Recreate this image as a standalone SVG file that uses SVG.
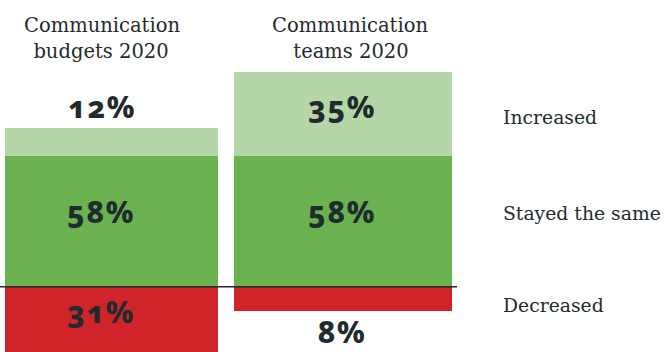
<svg xmlns="http://www.w3.org/2000/svg" width="665" height="352" viewBox="0 0 665 352">
<style>
.t{font-family:"DejaVu Serif","Liberation Serif",serif;font-size:19.5px;fill:#1f2b2d}
.l{font-size:18.8px}
.p{font-family:"Noto Sans","DejaVu Sans",sans-serif;font-weight:800;font-size:30px;fill:#1f2b2d;text-anchor:middle;font-variant-numeric:oldstyle-nums;letter-spacing:1.5px}
.c{text-anchor:middle}
.inc{fill:#b5d6a7}
.same{fill:#6ab14f}
.dec{fill:#d1232a}
</style>
<rect width="665" height="352" fill="#ffffff"/>
<g id="budgets">
<rect class="inc" x="5" y="128" width="213" height="28"/>
<rect class="same" x="5" y="156" width="213" height="131"/>
<rect class="dec" x="5" y="287" width="213" height="65"/>
<text class="t c" x="102" y="32">Communication</text>
<text class="t c" x="101" y="58">budgets 2020</text>
<text class="p" x="102" y="118">12%</text>
<text class="p" x="101" y="223">58%</text>
<text class="p" x="101" y="323">31%</text>
</g>
<g id="teams">
<rect class="inc" x="234" y="72" width="218" height="84"/>
<rect class="same" x="234" y="156" width="218" height="131"/>
<rect class="dec" x="234" y="287" width="218" height="24"/>
<text class="t c" x="350" y="32">Communication</text>
<text class="t c" x="351" y="58">teams 2020</text>
<text class="p" x="342" y="118">35%</text>
<text class="p" x="342" y="223">58%</text>
<text class="p" x="342" y="343">8%</text>
</g>
<g id="legend">
<text class="t l" x="503" y="124">Increased</text>
<text class="t l" x="503" y="220">Stayed the same</text>
<text class="t l" x="503" y="312">Decreased</text>
</g>
<g id="connectors">
<line x1="0" y1="286.7" x2="457" y2="286.7" stroke="#1f2b2d" stroke-width="1.6"/>
</g>
</svg>
